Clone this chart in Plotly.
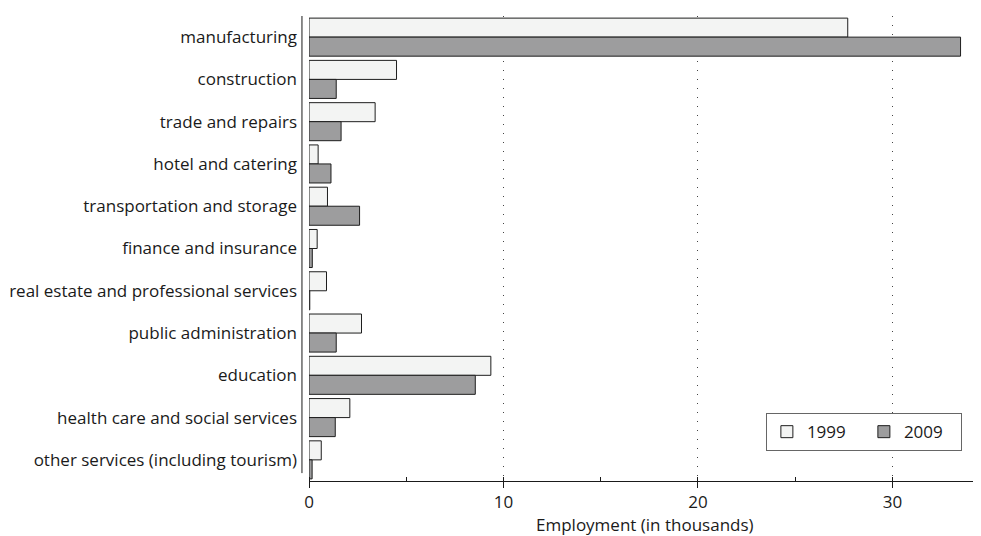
import plotly.graph_objects as go

categories = [
    "manufacturing",
    "construction",
    "trade and repairs",
    "hotel and catering",
    "transportation and storage",
    "ﬁnance and insurance",
    "real estate and professional services",
    "public administration",
    "education",
    "health care and social services",
    "other services (including tourism)",
]
values_1999 = [27.7, 4.5, 3.4, 0.47, 0.95, 0.42, 0.9, 2.7, 9.35, 2.1, 0.63]
values_2009 = [33.5, 1.4, 1.65, 1.13, 2.6, 0.17, 0.04, 1.4, 8.55, 1.35, 0.16]
x_tick_vals = [0, 10, 20, 30]
x_title = "Employment (in thousands)"

FONT = "Open Sans"
FS = 17

fig = go.Figure()
fig.add_trace(go.Bar(
    y=categories, x=values_1999, name="1999", orientation="h",
    marker=dict(color="#f3f4f3", line=dict(color="#1e1e1e", width=1)),
))
fig.add_trace(go.Bar(
    y=categories, x=values_2009, name="2009", orientation="h",
    marker=dict(color="#9d9d9e", line=dict(color="#1e1e1e", width=1)),
))

fig.update_layout(
    width=981, height=536,
    margin=dict(l=301, r=9, t=8, b=63),
    paper_bgcolor="white", plot_bgcolor="white",
    barmode="group", bargap=0.1, bargroupgap=0,
    font=dict(family=FONT, size=FS, color="#1a1a1a"),
    showlegend=True,
    legend=dict(
        orientation="h", x=0.973, xanchor="right", y=0.146, yanchor="top",
        bordercolor="#666666", borderwidth=1, bgcolor="white",
        font=dict(size=FS), itemwidth=30, traceorder="normal",
        tracegroupgap=0, entrywidth=52,
    ),
    xaxis=dict(
        range=[0, 34.5], tickvals=x_tick_vals, ticks="outside", ticklen=6,
        tickcolor="#1a1a1a", showline=True, linecolor="#1a1a1a", linewidth=1,
        showgrid=True, gridcolor="#444444", griddash="1px,8px", gridwidth=1,
        zeroline=False, automargin=False,
        minor=dict(dtick=5, ticks="inside", ticklen=4, tickcolor="#1a1a1a", showgrid=False),
        tickfont=dict(size=FS),
    ),
    yaxis=dict(
        autorange="reversed", showline=False, ticks="", showgrid=False,
        zeroline=False, ticklabelstandoff=11, tickfont=dict(size=FS),
        automargin=False,
    ),
    annotations=[dict(
        text=x_title, xref="paper", yref="paper", x=0.5, y=-0.093,
        xanchor="center", yanchor="middle", showarrow=False, borderpad=0,
        font=dict(size=FS, family=FONT, color="#1a1a1a"),
    )],
    shapes=[dict(
        type="line", xref="paper", yref="paper",
        x0=-0.0105, x1=-0.0105, y0=0.017, y1=1.0,
        line=dict(color="#1a1a1a", width=1),
    )],
)

fig.write_html("out.html")
